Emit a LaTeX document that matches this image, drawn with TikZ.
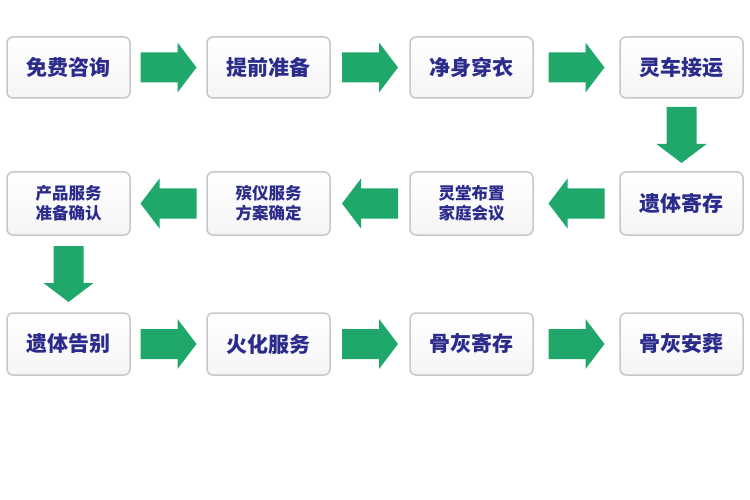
\documentclass[tikz,border=0pt]{standalone}
\usepackage{fontspec}
\newfontfamily\cjk{Noto Sans CJK SC}
\usetikzlibrary{calc}
\definecolor{txt}{HTML}{2B2B8C}
\definecolor{arr}{HTML}{1FA86A}
\definecolor{bd}{HTML}{C4C8CC}
\begin{document}
\begin{tikzpicture}[x=1pt,y=-1pt,
  box/.style={draw=bd,line width=1.5pt,rounded corners=6pt,top color=white,bottom color=gray!8,minimum width=123pt,text=txt,font=\cjk\bfseries\fontsize{21}{24}\selectfont,align=center},
  two/.style={font=\cjk\bfseries\fontsize{16.5}{20}\selectfont},
  garrow/.pic={\fill[arr] (-28,-15)--(9,-15)--(9,-25)--(28,0)--(9,25)--(9,15)--(-28,15)--cycle;}]
\useasboundingbox (0,0) rectangle (750,500);
\node[box,minimum height=61pt] (a1) at (68.5,67.5) {免费咨询};
\node[box,minimum height=61pt] (a2) at (268.5,67.5) {提前准备};
\node[box,minimum height=61pt] (a3) at (471.5,67.5) {净身穿衣};
\node[box,minimum height=61pt] (a4) at (681.5,67.5) {灵车接运};
\node[box,two,minimum height=63pt] (b1) at (68.5,203.5) {产品服务\\准备确认};
\node[box,two,minimum height=63pt] (b2) at (268.5,203.5) {殡仪服务\\方案确定};
\node[box,two,minimum height=63pt] (b3) at (471.5,203.5) {灵堂布置\\家庭会议};
\node[box,minimum height=63pt] (b4) at (681.5,203.5) {遗体寄存};
\node[box,minimum height=62pt] (c1) at (68.5,344) {遗体告别};
\node[box,minimum height=62pt] (c2) at (268.5,344) {火化服务};
\node[box,minimum height=62pt] (c3) at (471.5,344) {骨灰寄存};
\node[box,minimum height=62pt] (c4) at (681.5,344) {骨灰安葬};
\pic at ($(a1.east)!0.5!(a2.west)$) {garrow};
\pic at ($(a2.east)!0.5!(a3.west)$) {garrow};
\pic at ($(a3.east)!0.5!(a4.west)$) {garrow};
\pic[rotate=-90] at ($(a4.south)!0.5!(b4.north)$) {garrow};
\pic[rotate=180] at ($(b4.west)!0.5!(b3.east)$) {garrow};
\pic[rotate=180] at ($(b3.west)!0.5!(b2.east)$) {garrow};
\pic[rotate=180] at ($(b2.west)!0.5!(b1.east)$) {garrow};
\pic[rotate=-90] at ($(b1.south)!0.5!(c1.north)$) {garrow};
\pic at ($(c1.east)!0.5!(c2.west)$) {garrow};
\pic at ($(c2.east)!0.5!(c3.west)$) {garrow};
\pic at ($(c3.east)!0.5!(c4.west)$) {garrow};
\end{tikzpicture}
\end{document}
